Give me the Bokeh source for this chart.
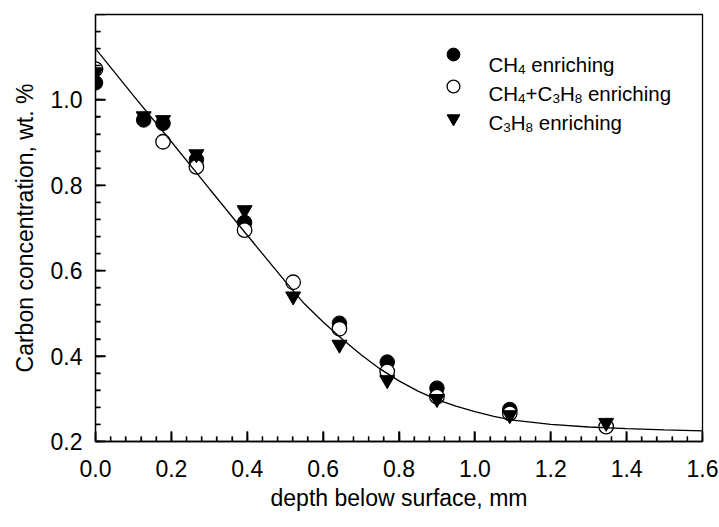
from math import pi

from bokeh.plotting import figure
from bokeh.models import (Range1d, SingleIntervalTicker, PrintfTickFormatter,
                          Label, Legend, LegendItem)
from bokeh.embed import file_html
from bokeh.resources import INLINE

# Carbon profiles (wt. %) versus depth below surface (mm)
depth_ch4 = [0.0, 0.127, 0.178, 0.266, 0.393, 0.643, 0.769, 0.900, 1.092]
carbon_ch4 = [1.040, 0.953, 0.945, 0.860, 0.713, 0.477, 0.386, 0.325, 0.275]

depth_mix = [0.0, 0.178, 0.266, 0.393, 0.521, 0.643, 0.769, 0.900, 1.092, 1.346]
carbon_mix = [1.072, 0.902, 0.843, 0.695, 0.573, 0.464, 0.364, 0.305, 0.266, 0.235]

depth_c3h8 = [0.0, 0.127, 0.178, 0.266, 0.393, 0.521, 0.643, 0.769, 0.900, 1.092, 1.346]
carbon_c3h8 = [1.065, 0.962, 0.953, 0.873, 0.742, 0.540, 0.427, 0.344, 0.300, 0.262, 0.244]

# Fitted profile
fit_depth = [0.0, 0.1, 0.2, 0.3, 0.4, 0.5, 0.55, 0.6, 0.65, 0.7, 0.75, 0.8,
             0.85, 0.9, 0.95, 1.0, 1.05, 1.1, 1.2, 1.3, 1.4, 1.5, 1.6]
fit_carbon = [1.120, 1.010, 0.902, 0.792, 0.683, 0.575, 0.523, 0.480, 0.440,
              0.403, 0.370, 0.342, 0.318, 0.298, 0.283, 0.270, 0.259, 0.250,
              0.240, 0.234, 0.230, 0.227, 0.225]

X_MIN, X_MAX, Y_MIN, Y_MAX = 0.0, 1.6, 0.2, 1.2
MAJOR, N_MINOR = 0.2, 5

W, H = 719, 527
B_LEFT, B_RIGHT, B_TOP, B_BOTTOM = 95, 17, 14, 86
FRAME_BOTTOM = H - B_BOTTOM

FONT = "Liberation Sans"
AXIS_PX = 23
MAJOR_LEN, MINOR_LEN = 10, 5

p = figure(width=W, height=H, x_range=Range1d(X_MIN, X_MAX), y_range=Range1d(Y_MIN, Y_MAX),
           output_backend="svg", toolbar_location=None,
           min_border_left=B_LEFT, min_border_right=B_RIGHT,
           min_border_top=B_TOP, min_border_bottom=B_BOTTOM)
p.grid.visible = False
p.outline_line_color = "black"
p.outline_line_width = 1.3

p.xaxis.ticker = SingleIntervalTicker(interval=MAJOR, num_minor_ticks=N_MINOR)
p.yaxis.ticker = SingleIntervalTicker(interval=MAJOR, num_minor_ticks=N_MINOR)
p.xaxis.formatter = PrintfTickFormatter(format="%.1f")
p.yaxis.formatter = PrintfTickFormatter(format="%.1f")

for ax in (p.xaxis, p.yaxis):
    ax.axis_line_color = "black"
    ax.axis_line_width = 1.3
    ax.major_tick_in = MAJOR_LEN
    ax.major_tick_out = 0
    ax.minor_tick_in = MINOR_LEN
    ax.minor_tick_out = 0
    ax.major_tick_line_color = "black"
    ax.minor_tick_line_color = "black"
    ax.major_tick_line_width = 1.6
    ax.minor_tick_line_width = 1.3
    ax.major_label_text_font = FONT
    ax.major_label_text_font_size = f"{AXIS_PX}px"
    ax.major_label_text_color = "black"
    ax.axis_label_text_font = FONT
    ax.axis_label_text_font_size = f"{AXIS_PX}px"
    ax.axis_label_text_font_style = "normal"
    ax.axis_label_text_color = "black"

p.xaxis.axis_label = "depth below surface, mm"
p.yaxis.axis_label = "Carbon concentration, wt. %"
p.xaxis.major_label_standoff = 18
p.yaxis.major_label_standoff = 13
p.xaxis.axis_label_standoff = 5
p.yaxis.axis_label_standoff = 10

# Inward tick marks, also drawn inside the frame so they always sit on top of it
step = MAJOR / N_MINOR
x_major = [round(X_MIN + k * MAJOR, 6) for k in range(int(round((X_MAX - X_MIN) / MAJOR)) + 1)]
y_major = [round(Y_MIN + k * MAJOR, 6) for k in range(int(round((Y_MAX - Y_MIN) / MAJOR)) + 1)]
x_minor = [round(X_MIN + k * step, 6) for k in range(int(round((X_MAX - X_MIN) / step)) + 1)
           if k % N_MINOR]
y_minor = [round(Y_MIN + k * step, 6) for k in range(int(round((Y_MAX - Y_MIN) / step)) + 1)
           if k % N_MINOR]

tick_style = dict(line_color="black", length_units="screen")
p.ray(x=x_major, y=[Y_MIN] * len(x_major), length=MAJOR_LEN, angle=pi / 2,
      line_width=1.6, **tick_style)
p.ray(x=x_minor, y=[Y_MIN] * len(x_minor), length=MINOR_LEN, angle=pi / 2,
      line_width=1.3, **tick_style)
p.ray(x=[X_MIN] * len(y_major), y=y_major, length=MAJOR_LEN, angle=0,
      line_width=1.6, **tick_style)
p.ray(x=[X_MIN] * len(y_minor), y=y_minor, length=MINOR_LEN, angle=0,
      line_width=1.3, **tick_style)

r_ch4 = p.scatter(depth_ch4, carbon_ch4, marker="circle", size=14.5,
                  fill_color="black", line_color="black", line_width=1)
r_mix = p.scatter(depth_mix, carbon_mix, marker="circle", size=14.5,
                  fill_color="white", line_color="black", line_width=1.3)
r_c3h8 = p.scatter(depth_c3h8, carbon_c3h8, marker="inverted_triangle", size=15,
                   fill_color="black", line_color="black", line_width=1)
p.line(fit_depth, fit_carbon, line_color="black", line_width=1.3)

# Legend symbols; the formula labels are drawn separately so that subscripts work
legend = Legend(items=[LegendItem(label=" ", renderers=[r_ch4]),
                       LegendItem(label=" ", renderers=[r_mix]),
                       LegendItem(label=" ", renderers=[r_c3h8])],
                location=(341.7, 307.5), glyph_width=32, glyph_height=32,
                padding=0, margin=0, spacing=-3, label_standoff=0, label_width=0,
                label_height=10, label_text_font_size="8px",
                border_line_alpha=0, background_fill_alpha=0)
p.add_layout(legend)

# Arial-compatible advance widths (per 1000 em)
ADV = {"C": 722, "H": 722, "+": 584, " ": 278, "e": 556, "n": 556, "r": 333,
       "i": 222, "c": 500, "h": 556, "g": 556, "3": 556, "4": 556, "8": 556}
MAIN_PX, SUB_PX, SUB_DROP = 20.5, 13.5, 4.5


def text_width(s, px):
    return sum(ADV[ch] for ch in s) * px / 1000.0


def draw_formula(parts, x_abs, baseline_abs):
    x = x_abs
    for txt, sub in parts:
        px = SUB_PX if sub else MAIN_PX
        y = baseline_abs + (SUB_DROP if sub else 0)
        lead = len(txt) - len(txt.lstrip(" "))
        shown = txt.strip(" ")
        p.add_layout(Label(x=x + text_width(" " * lead, px) - B_LEFT,
                           y=FRAME_BOTTOM - y, x_units="screen", y_units="screen",
                           text=shown, text_font=FONT, text_font_size=f"{px}px",
                           text_color="black", text_baseline="alphabetic",
                           text_align="left"))
        x += text_width(txt, px)


legend_rows = [
    [("CH", 0), ("4", 1), (" enriching", 0)],
    [("CH", 0), ("4", 1), ("+C", 0), ("3", 1), ("H", 0), ("8", 1), (" enriching", 0)],
    [("C", 0), ("3", 1), ("H", 0), ("8", 1), (" enriching", 0)],
]
for i, parts in enumerate(legend_rows):
    draw_formula(parts, 488, 59.5 + 29 * i + 4.5)

open("out.html", "w").write(file_html(p, INLINE))
